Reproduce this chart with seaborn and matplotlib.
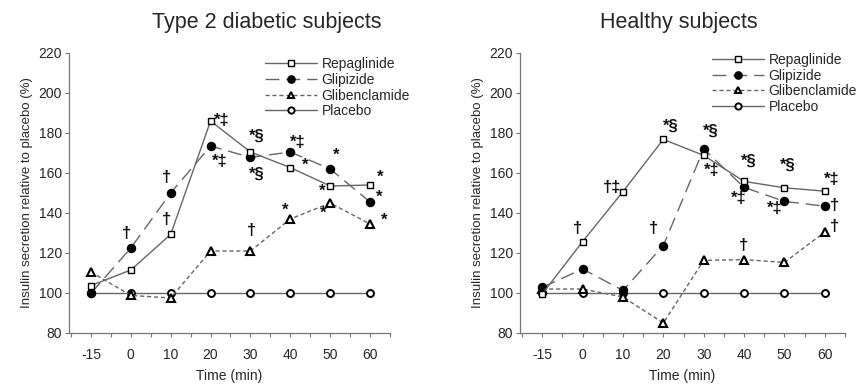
import matplotlib
matplotlib.use("Agg")
import matplotlib.pyplot as plt
import seaborn as sns
import numpy as np
import pandas as pd
from matplotlib.lines import Line2D

sns.set_style("white")
plt.rcParams['font.family'] = ['Liberation Sans', 'DejaVu Sans']

times = ["-15", "0", "10", "20", "30", "40", "50", "60"]
drugs = ["Repaglinide", "Glipizide", "Glibenclamide", "Placebo"]

# Type 2 diabetic subjects
diab_repaglinide = [103.7, 111.5, 129.3, 186.0, 170.5, 162.7, 153.5, 154.0]
diab_glipizide = [99.8, 122.5, 150.0, 173.5, 167.8, 170.5, 162.0, 145.5]
diab_glibenclamide = [110.5, 98.8, 97.5, 121.0, 121.0, 137.0, 145.0, 134.5]
diab_placebo = [100, 100, 100, 100, 100, 100, 100, 100]

# Healthy subjects
heal_repaglinide = [99.5, 125.7, 150.7, 176.8, 168.8, 155.8, 152.6, 150.9]
heal_glipizide = [102.8, 112.0, 101.3, 123.7, 172.0, 152.8, 145.8, 143.4]
heal_glibenclamide = [102.0, 102.0, 98.0, 85.0, 116.3, 116.7, 115.3, 130.5]
heal_placebo = [100, 100, 100, 100, 100, 100, 100, 100]

# Significance annotations: (time label, y value, text)
diab_notes = [
    ("0", 129.5, "†"), ("10", 157.5, "†"), ("10", 136.5, "†"),
    ("20", 186.0, "*‡"), ("20", 165.5, "*‡"),
    ("30", 178.5, "*§"), ("30", 159.5, "*§"), ("30", 131.0, "†"),
    ("40", 175.0, "*‡"), ("40", 164.0, "*"), ("40", 141.5, "*"),
    ("50", 169.0, "*"), ("50", 151.0, "*"), ("50", 140.0, "*"),
    ("60", 158.0, "*"), ("60", 148.0, "*"), ("60", 136.5, "*"),
]
diab_note_dx = [-0.1, -0.1, -0.1, 0.27, 0.24, 0.15, 0.17, 0.02, 0.18, 0.38, -0.14,
                0.15, -0.19, -0.18, 0.26, 0.24, 0.36]

heal_notes = [
    ("0", 132.0, "†"), ("10", 152.5, "†‡"), ("20", 132.0, "†"),
    ("20", 183.5, "*§"), ("30", 181.0, "*§"), ("30", 161.0, "*‡"),
    ("40", 166.0, "*§"), ("40", 147.0, "*‡"), ("40", 123.5, "†"),
    ("50", 164.0, "*§"), ("50", 142.0, "*‡"),
    ("60", 156.5, "*‡"), ("60", 143.5, "†"), ("60", 133.0, "†"),
]
heal_note_dx = [-0.13, -0.28, -0.25, 0.18, 0.18, 0.2, 0.12, -0.12, -0.02,
                0.08, -0.24, 0.18, 0.25, 0.25]

styles = {
    "Repaglinide": dict(linestyle="-", marker="s", mfc="white", ms=4.6, mew=1.0),
    "Glipizide": dict(linestyle=(0, (10, 5)), marker="o", mfc="black", ms=5.8, mew=1.0),
    "Glibenclamide": dict(linestyle=(0, (3, 2)), marker="^", mfc="white", ms=5.2, mew=1.5),
    "Placebo": dict(linestyle="-", marker="o", mfc="white", ms=5.0, mew=1.4),
}
line_color = "#666666"

fig = plt.figure(figsize=(8.59, 3.88), dpi=100)
ax1 = fig.add_axes([69 / 859, 1 - 333 / 388, 321 / 859, 280 / 388])
ax2 = fig.add_axes([520 / 859, 1 - 333 / 388, 325 / 859, 280 / 388])

panels = [
    (ax1, "Type 2 diabetic subjects",
     [diab_repaglinide, diab_glipizide, diab_glibenclamide, diab_placebo],
     diab_notes, diab_note_dx, (0.612, 0.985), 0.615),
    (ax2, "Healthy subjects",
     [heal_repaglinide, heal_glipizide, heal_glibenclamide, heal_placebo],
     heal_notes, heal_note_dx, (0.592, 1.0), 0.488),
]

pos = {t: i for i, t in enumerate(times)}

for ax, title, series, notes, ndx, legpos, title_x in panels:
    rows = []
    for d, vals in zip(drugs, series):
        for t, v in zip(times, vals):
            rows.append(dict(drug=d, pos=pos[t], value=v))
    df = pd.DataFrame(rows)
    for d in drugs[::-1]:
        st = styles[d]
        sub = df[df.drug == d]
        sns.lineplot(data=sub, x="pos", y="value", ax=ax, color=line_color,
                     linestyle=st["linestyle"], linewidth=1.0,
                     marker=st["marker"], markerfacecolor=st["mfc"],
                     markeredgecolor="black", markersize=st["ms"],
                     markeredgewidth=st["mew"], legend=False, zorder=3)
    for (t, y, txt), dx in zip(notes, ndx):
        ax.text(pos[t] + dx, y, txt, fontsize=12, fontweight="bold",
                ha="center", va="center", color="#111111")

    ax.set_xlim(-0.55, 7.5)
    ax.set_ylim(80, 220)
    ax.set_xticks(range(len(times)))
    ax.set_xticklabels(times)
    ax.set_xticks(np.arange(-0.5, 7.51, 0.5), minor=True)
    ax.set_yticks(np.arange(80, 221, 20))
    ax.tick_params(axis="x", which="both", direction="out", length=3, width=0.8,
                   color="#777777", bottom=True, labelsize=10, pad=8)
    ax.tick_params(axis="y", which="both", direction="out", length=3, width=0.8,
                   color="#777777", left=True, labelsize=10, pad=2)
    for s in ["top", "right"]:
        ax.spines[s].set_visible(False)
    for s in ["left", "bottom"]:
        ax.spines[s].set_color("#777777")
        ax.spines[s].set_linewidth(0.9)
    ax.set_xlabel("Time (min)", fontsize=10, labelpad=5)
    ax.set_ylabel("Insulin secretion relative to placebo (%)", fontsize=9.5, labelpad=4)
    ax.set_title(title, fontsize=15.5, pad=18, x=title_x)
    ax.grid(False)

    handles = []
    for d in drugs:
        st = styles[d]
        handles.append(Line2D([], [], color=line_color, linestyle=st["linestyle"],
                              linewidth=1.0, marker=st["marker"],
                              markerfacecolor=st["mfc"], markeredgecolor="black",
                              markersize=st["ms"] * 0.9, markeredgewidth=st["mew"]))
    ax.legend(handles, drugs, loc="upper left", bbox_to_anchor=legpos, frameon=False,
              fontsize=10, handlelength=3.7, handletextpad=0.35, labelspacing=0.12,
              borderaxespad=0, borderpad=0)

fig.savefig("out.png", dpi=100)
